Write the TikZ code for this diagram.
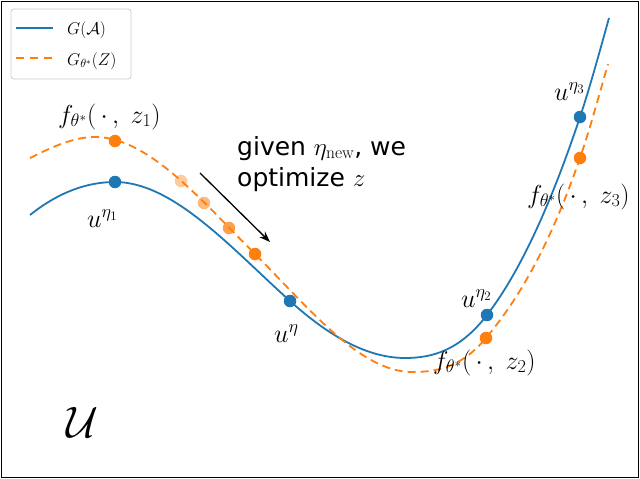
\RequirePackage{fix-cm}
\documentclass[tikz,border=0pt]{standalone}
\usepackage{fontspec}
\newfontfamily\dvs{DejaVu Sans}
\usetikzlibrary{arrows.meta}
\definecolor{tblue}{HTML}{1F77B4}
\definecolor{torange}{HTML}{FF7F0E}
\tikzset{
  bluecurve/.style={draw=tblue,line width=1.8pt},
  orangecurve/.style={draw=torange,line width=1.8pt,dash pattern=on 8pt off 5pt},
  bdot/.style={circle,fill=tblue,inner sep=0pt,minimum size=12.5pt},
  odot/.style={circle,fill=torange,inner sep=0pt,minimum size=12.5pt},
  mlabel/.style={anchor=base west,inner sep=0pt,font=\fontsize{26}{30}\selectfont},
  slabel/.style={anchor=base west,inner sep=0pt,font=\dvs\fontsize{25}{30}\selectfont},
  leglabel/.style={anchor=west,inner sep=0pt,font=\fontsize{17}{19}\selectfont},
}
\begin{document}
\begin{tikzpicture}[x=1pt,y=-1pt]
\useasboundingbox (0,0) rectangle (640,479);
\fill[white] (0,0) rectangle (640,479);
\draw[line width=1.3pt] (1.5,1.5) rectangle (638.5,477.5);

% curves
\draw[bluecurve] (30,215)
  .. controls (58.3,192.4) and (86.7,182) .. (115,182)
  .. controls (173.3,182) and (231.7,248.5) .. (290,301)
  .. controls (328.3,335.5) and (366.7,358) .. (405,358)
  .. controls (432.3,358) and (459.7,350.5) .. (487,315)
  .. controls (518,274.7) and (549,210) .. (580,117)
  .. controls (589.7,88) and (599.3,52.8) .. (609,18);
\draw[orangecurve] (30,158)
  .. controls (51.7,147.2) and (73.3,137) .. (95,137)
  .. controls (148.3,137) and (201.7,200.7) .. (255,254)
  .. controls (307.3,306.3) and (359.7,372) .. (412,372)
  .. controls (436.7,372) and (461.3,367.6) .. (486,338)
  .. controls (517.3,300.4) and (548.7,248.8) .. (580,158)
  .. controls (589.3,130.9) and (598.7,96.7) .. (608,64);

% dots
\node[bdot] (b1) at (115,182) {};
\node[bdot] (b2) at (290,301) {};
\node[bdot] (b3) at (487,315) {};
\node[bdot] (b4) at (580,117) {};
\node[odot] (o1) at (115,141) {};
\node[odot,opacity=0.4] (oa) at (181,181) {};
\node[odot,opacity=0.55] (ob) at (204,203) {};
\node[odot,opacity=0.75] (oc) at (229,228) {};
\node[odot] (od) at (255,254) {};
\node[odot] (o2) at (486,338) {};
\node[odot] (o3) at (580,158) {};

% arrow
\coordinate (as) at (200,173);
\coordinate (ae) at (270,242);
\draw[line width=1.3pt,-{Stealth[length=11pt,width=8pt]}] (as) -- (ae);

% labels
\node[mlabel] (lf1) at (58,123) {$f_{\theta^*}(\,\cdot\,,\;z_1)$};
\node[mlabel] (lu1) at (87,227) {$u^{\eta_1}$};
\node[mlabel] (lu) at (274,342) {$u^{\eta}$};
\node[mlabel] (lu2) at (461,307) {$u^{\eta_2}$};
\node[mlabel] (lu3) at (554,100) {$u^{\eta_3}$};
\node[mlabel] (lf2) at (433,369) {$f_{\theta^*}(\,\cdot\,,\;z_2)$};
\node[mlabel] (lf3) at (527,203) {$f_{\theta^*}(\,\cdot\,,\;z_3)$};
\node[slabel] (t1) at (237,155) {given $\eta_{\mathrm{new}}$, we};
\node[slabel] (t2) at (237,186) {optimize $z$};
\node[anchor=base west,inner sep=0pt,font=\fontsize{44}{50}\selectfont] (lU) at (66,437) {$\mathcal{U}$};

% legend
\draw[draw=black!20,fill=white,rounded corners=3pt,line width=0.8pt] (11,9) rectangle (131,79);
\coordinate (l1a) at (16,28); \coordinate (l1b) at (53,28);
\coordinate (l2a) at (16,58); \coordinate (l2b) at (53,58);
\draw[draw=tblue,line width=1.5pt] (l1a) -- (l1b);
\draw[draw=torange,line width=1.5pt,dash pattern=on 8pt off 6pt] (l2a) -- (l2b);
\node[leglabel] (g1) at (67,30) {$G(\mathcal{A})$};
\node[leglabel] (g2) at (67,61) {$G_{\theta^*}(Z)$};
\end{tikzpicture}
\end{document}
